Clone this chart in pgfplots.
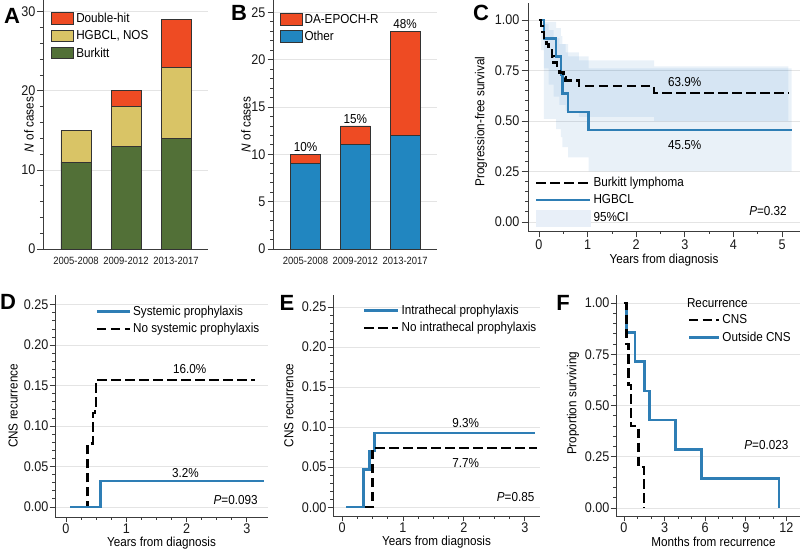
\documentclass[border=0pt]{standalone}
\usepackage{fontspec}
\setmainfont[FakeStretch=0.9]{Liberation Sans}
\newfontfamily\letterfont{Liberation Sans}
\usepackage{pgfplots}
\pgfplotsset{compat=1.18}
\definecolor{dhred}{RGB}{238,75,35}
\definecolor{hgtan}{RGB}{217,196,102}
\definecolor{bkgreen}{RGB}{82,112,55}
\definecolor{othblue}{RGB}{33,134,192}
\definecolor{lineblue}{RGB}{46,126,181}
\definecolor{axiscol}{RGB}{60,60,60}
\definecolor{gridcol}{RGB}{228,228,228}
\definecolor{cibase}{RGB}{40,120,190}
\definecolor{cilegend}{RGB}{232,239,248}
\pgfplotsset{
  panel/.style={
    scale only axis, anchor=south west, clip=false,
    axis x line*=bottom, axis y line*=left,
    axis line style={axiscol, line width=0.9pt},
    tick align=outside,
    major tick length=5.5pt, minor tick length=3pt,
    every tick/.style={axiscol, line width=0.8pt},
    ymajorgrids, grid style={gridcol, line width=0.8pt},
    tick label style={font=\fontsize{14}{16}\selectfont, text=black!90},
    xticklabel style={inner sep=2pt},
    yticklabel style={inner sep=2pt},
    label style={font=\fontsize{13}{15}\selectfont, inner sep=1pt},
    /pgf/number format/assume math mode=true,
    legend cell align=left,
    legend style={draw=none, fill=none, anchor=north west, inner sep=0pt,
      font=\fontsize{13}{15}\selectfont, row sep=2.5pt},
  },
  barpanel/.style={panel, ybar stacked, bar width=0.6,
    xtick={0,1,2}, xticklabels={2005-2008,2009-2012,2013-2017},
    x tick label style={font=\fontsize{10.5}{12}\selectfont},
    major x tick style={draw=none}, minor y tick num=4,
    every axis plot/.append style={draw=black!80, line width=0.8pt},
    legend image code/.code={\draw[##1] (0pt,-5.5pt) rectangle (22pt,6pt);},
    reverse legend},
  kmdash/.style={black, line width=2.5pt, dash pattern=on 9.5pt off 4.5pt, const plot},
  kmsolid/.style={lineblue, line width=2.5pt, const plot},
  ticks2/.style={yticklabel style={/pgf/number format/fixed, /pgf/number format/fixed zerofill, /pgf/number format/precision=2}},
}
\begin{document}
\begin{tikzpicture}[x=1pt,y=1pt]
\useasboundingbox (0,0) rectangle (800,553);

% ---------------- A
\begin{axis}[barpanel, at={(43pt,304pt)}, width=165pt, height=249pt,
  xmin=-0.66, xmax=2.64, ymin=0, ymax=31.5, ytick={0,10,20,30},
  ylabel={\textit{N} of cases},
  ylabel style={at={(axis description cs:-0.085,0.5)}, anchor=center},
  legend style={at={(axis description cs:0.05,0.955)}}]
\addplot[fill=bkgreen] coordinates {(0,11) (1,13) (2,14)};
\addlegendentry{Burkitt}
\addplot[fill=hgtan] coordinates {(0,4) (1,5) (2,9)};
\addlegendentry{HGBCL, NOS}
\addplot[fill=dhred] coordinates {(0,0) (1,2) (2,6)};
\addlegendentry{Double-hit}
\end{axis}

% ---------------- B
\begin{axis}[barpanel, at={(273pt,304pt)}, width=164pt, height=249pt,
  xmin=-0.653, xmax=2.64, ymin=0, ymax=26.3, ytick={0,5,10,15,20,25},
  ylabel={\textit{N} of cases},
  ylabel style={at={(axis description cs:-0.165,0.5)}, anchor=center},
  legend style={at={(axis description cs:0.04,0.952)}}]
\addplot[fill=othblue] coordinates {(0,9) (1,11) (2,12)};
\addlegendentry{Other}
\addplot[fill=dhred] coordinates {(0,1) (1,2) (2,11)};
\addlegendentry{DA-EPOCH-R}
\node[anchor=south, font=\fontsize{13}{15}\selectfont, inner sep=2pt] at (axis cs:0,10) {10\%};
\node[anchor=south, font=\fontsize{13}{15}\selectfont, inner sep=2pt] at (axis cs:1,13) {15\%};
\node[anchor=south, font=\fontsize{13}{15}\selectfont, inner sep=2pt] at (axis cs:2,23) {48\%};
\end{axis}

% ---------------- C
\begin{axis}[panel, ticks2, at={(528pt,322pt)}, width=272pt, height=228pt,
  xmin=-0.226, xmax=5.37, ymin=-0.045, ymax=1.084,
  major tick length=6.5pt,
  xtick={0,1,2,3,4,5}, minor x tick num=1,
  ytick={0,0.25,0.5,0.75,1}, minor y tick num=4,
  xlabel={Years from diagnosis}, ylabel={Progression-free survival},
  xlabel style={at={(axis description cs:0.5,-0.127)}, anchor=center},
  ylabel style={at={(axis description cs:-0.173,0.48)}, anchor=center},
  legend style={at={(axis description cs:0.025,0.245)}}]
% CI bands
\addplot[forget plot, draw=none, fill=cibase, fill opacity=0.1] coordinates {
 (0.04,0.99)(0.1,0.99)(0.1,0.98)(0.2,0.98)(0.2,0.95)(0.3,0.95)(0.3,0.91)(0.42,0.91)(0.42,0.88)(0.55,0.88)(0.55,0.84)(0.82,0.84)(0.82,0.80)(2.37,0.80)(2.37,0.77)(5.13,0.77)
 (5.13,0.50)(2.37,0.50)(2.37,0.52)(0.82,0.52)(0.82,0.55)(0.55,0.55)(0.55,0.58)(0.42,0.58)(0.42,0.62)(0.3,0.62)(0.3,0.68)(0.2,0.68)(0.2,0.76)(0.1,0.76)(0.1,0.85)(0.04,0.85)};
\addplot[forget plot, draw=none, fill=cibase, fill opacity=0.1] coordinates {
 (0.1,0.99)(0.35,0.99)(0.35,0.96)(0.45,0.96)(0.45,0.92)(0.48,0.92)(0.48,0.88)(0.6,0.88)(0.6,0.82)(1.02,0.82)(1.02,0.76)(5.2,0.76)
 (5.2,0.25)(1.02,0.25)(1.02,0.32)(0.6,0.32)(0.6,0.37)(0.48,0.37)(0.48,0.42)(0.45,0.42)(0.45,0.46)(0.35,0.46)(0.35,0.51)(0.1,0.51)};
\addplot[forget plot, kmsolid] coordinates {(0,1)(0.1,0.909)(0.35,0.818)(0.45,0.727)(0.48,0.636)(0.6,0.545)(1.02,0.455)(5.2,0.455)};
\addplot[forget plot, kmdash] coordinates {(0,1)(0.04,0.97)(0.07,0.94)(0.1,0.91)(0.15,0.88)(0.2,0.85)(0.27,0.82)(0.3,0.79)(0.37,0.76)(0.42,0.74)(0.5,0.715)(0.55,0.70)(0.82,0.673)(2.37,0.639)(5.13,0.639)};
\addlegendimage{legend image code/.code={\draw[black, line width=2.5pt, dash pattern=on 10pt off 4pt] (0pt,0pt) -- (54pt,0pt);}}
\addlegendentry{Burkitt lymphoma}
\addlegendimage{legend image code/.code={\draw[lineblue, line width=2.5pt] (0pt,0pt) -- (54pt,0pt);}}
\addlegendentry{HGBCL}
\addlegendimage{legend image code/.code={\fill[cilegend] (0pt,-8pt) rectangle (54pt,8pt);}}
\addlegendentry{95\%CI}
\node[font=\fontsize{13}{15}\selectfont] at (axis cs:3.0,0.693) {63.9\%};
\node[font=\fontsize{13}{15}\selectfont] at (axis cs:3.0,0.381) {45.5\%};
\node[anchor=east, font=\fontsize{13}{15}\selectfont, inner sep=0pt] at (axis cs:5.10,0.054) {\textit{P}=0.32};
\end{axis}

% ---------------- D
\begin{axis}[panel, ticks2, at={(55pt,36pt)}, width=213pt, height=222pt,
  xmin=-0.182, xmax=3.35, ymin=-0.0124, ymax=0.262,
  xtick={0,1,2,3}, minor x tick num=3,
  ytick={0,0.05,0.1,0.15,0.2,0.25}, minor y tick num=4,
  yticklabel style={inner sep=1pt},
  xticklabel style={inner sep=1pt},
  xlabel={Years from diagnosis}, ylabel={CNS recurrence},
  xlabel style={at={(axis description cs:0.5,-0.12)}, anchor=center},
  ylabel style={at={(axis description cs:-0.197,0.5)}, anchor=center},
  legend style={at={(axis description cs:0.19,0.96)}}]
\addplot[forget plot, kmdash] coordinates {(0.07,0)(0.36,0.0785)(0.45,0.116)(0.48,0.12)(0.50,0.157)(3.14,0.157)};
\addplot[forget plot, kmsolid] coordinates {(0.07,0)(0.57,0.032)(3.28,0.032)};
\addlegendimage{legend image code/.code={\draw[lineblue, line width=2.5pt] (0pt,0pt) -- (33pt,0pt);}}
\addlegendentry{Systemic prophylaxis}
\addlegendimage{legend image code/.code={\draw[black, line width=2.5pt, dash pattern=on 9.5pt off 4.5pt] (0pt,0pt) -- (33pt,0pt);}}
\addlegendentry{No systemic prophylaxis}
\node[font=\fontsize{13}{15}\selectfont] at (axis cs:2.05,0.171) {16.0\%};
\node[font=\fontsize{13}{15}\selectfont] at (axis cs:1.98,0.042) {3.2\%};
\node[anchor=east, font=\fontsize{13}{15}\selectfont, inner sep=0pt] at (axis cs:3.18,0.0087) {\textit{P}=0.093};
\end{axis}

% ---------------- E
\begin{axis}[panel, ticks2, at={(333pt,37pt)}, width=207pt, height=221pt,
  xmin=-0.148, xmax=3.25, ymin=-0.011, ymax=0.265,
  xtick={0,1,2,3}, minor x tick num=3,
  ytick={0,0.05,0.1,0.15,0.2,0.25}, minor y tick num=4,
  yticklabel style={inner sep=1pt},
  xticklabel style={inner sep=1pt},
  xlabel={Years from diagnosis}, ylabel={CNS recurrence},
  xlabel style={at={(axis description cs:0.5,-0.12)}, anchor=center},
  ylabel style={at={(axis description cs:-0.213,0.5)}, anchor=center},
  legend style={at={(axis description cs:0.145,0.965)}}]
\addplot[forget plot, kmsolid] coordinates {(0.07,0)(0.356,0.047)(0.45,0.07)(0.536,0.0925)(3.16,0.0925)};
\addplot[forget plot, kmdash] coordinates {(0.37,0)(0.5,0.074)(3.2,0.074)};
\addlegendimage{legend image code/.code={\draw[lineblue, line width=2.5pt] (0pt,0pt) -- (34pt,0pt);}}
\addlegendentry{Intrathecal prophylaxis}
\addlegendimage{legend image code/.code={\draw[black, line width=2.5pt, dash pattern=on 9.5pt off 4.5pt] (0pt,0pt) -- (34pt,0pt);}}
\addlegendentry{No intrathecal prophylaxis}
\node[font=\fontsize{13}{15}\selectfont] at (axis cs:2.03,0.105) {9.3\%};
\node[font=\fontsize{13}{15}\selectfont] at (axis cs:2.03,0.055) {7.7\%};
\node[anchor=east, font=\fontsize{13}{15}\selectfont, inner sep=0pt] at (axis cs:3.16,0.0125) {\textit{P}=0.85};
\end{axis}

% ---------------- F
\begin{axis}[panel, ticks2, at={(616pt,37pt)}, width=184pt, height=221pt,
  xmin=-0.59, xmax=13.0, ymin=-0.039, ymax=1.039,
  xtick={0,3,6,9,12}, minor x tick num=2,
  ytick={0,0.25,0.5,0.75,1}, minor y tick num=4,
  yticklabel style={inner sep=1pt},
  xticklabel style={inner sep=1pt},
  xlabel={Months from recurrence}, ylabel={Proportion surviving},
  xlabel style={at={(axis description cs:0.53,-0.116)}, anchor=center},
  ylabel style={at={(axis description cs:-0.234,0.51)}, anchor=center},
  legend style={at={(axis description cs:0.39,0.92)}}]
\addplot[forget plot, kmsolid] coordinates {(0,1)(0.17,0.857)(0.82,0.714)(1.53,0.571)(1.9,0.4286)(3.81,0.2857)(5.74,0.1429)(11.43,0)};
\addplot[forget plot, kmdash] coordinates {(0,1)(0.17,0.8)(0.35,0.6)(0.5,0.4)(1.06,0.2)(1.46,0)};
\addlegendimage{legend image code/.code={\draw[black, line width=2.5pt, dash pattern=on 9pt off 4.5pt] (0pt,0pt) -- (30pt,0pt);}}
\addlegendentry{CNS}
\addlegendimage{legend image code/.code={\draw[lineblue, line width=2.5pt] (0pt,0pt) -- (30pt,0pt);}}
\addlegendentry{Outside CNS}
\node[anchor=west, font=\fontsize{13}{15}\selectfont, inner sep=0pt] at (axis description cs:0.385,0.964) {Recurrence};
\node[anchor=east, font=\fontsize{13}{15}\selectfont, inner sep=0pt] at (axis cs:12.15,0.307) {\textit{P}=0.023};
\end{axis}

% panel letters
\node[font=\letterfont\bfseries\fontsize{22}{24}\selectfont] at (12,537) {A};
\node[font=\letterfont\bfseries\fontsize{22}{24}\selectfont] at (239,540) {B};
\node[font=\letterfont\bfseries\fontsize{22}{24}\selectfont] at (481,540) {C};
\node[font=\letterfont\bfseries\fontsize{22}{24}\selectfont] at (8,251) {D};
\node[font=\letterfont\bfseries\fontsize{22}{24}\selectfont] at (287,250) {E};
\node[font=\letterfont\bfseries\fontsize{22}{24}\selectfont] at (563,250) {F};
\end{tikzpicture}
\end{document}
